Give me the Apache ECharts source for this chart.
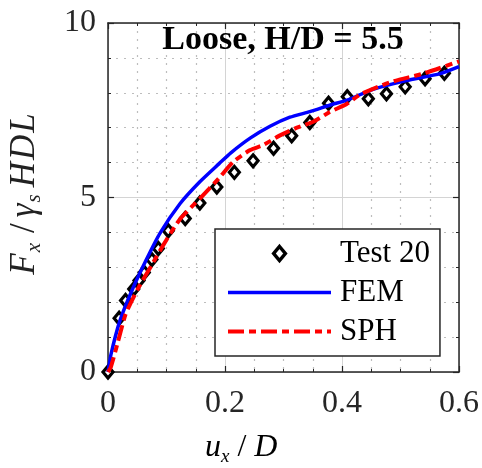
<!DOCTYPE html>
<html>
<head>
<meta charset="utf-8">
<script src="https://cdn.jsdelivr.net/npm/echarts@6/dist/echarts.min.js"></script>
<style>
html,body{margin:0;padding:0;background:#fff;}
#chart{width:482px;height:468px;}
</style>
</head>
<body>
<div id="chart"></div>
<script>
// ---- data ----
var testX = [0, 0.019, 0.030, 0.044, 0.053, 0.062, 0.075, 0.086, 0.103, 0.132, 0.157, 0.186, 0.216, 0.248, 0.283, 0.314, 0.345, 0.377, 0.409, 0.445, 0.476, 0.508, 0.542, 0.575];
var testY = [0, 1.54, 2.05, 2.38, 2.62, 2.85, 3.22, 3.54, 4.05, 4.40, 4.84, 5.30, 5.72, 6.05, 6.41, 6.77, 7.15, 7.70, 7.89, 7.83, 7.97, 8.17, 8.40, 8.56];

var femX = [0, 0.005, 0.02, 0.04, 0.065, 0.089, 0.123, 0.157, 0.19, 0.21, 0.243, 0.277, 0.311, 0.345, 0.38, 0.41, 0.453, 0.51, 0.568, 0.6];
var femY = [0, 0.5, 1.45, 2.3, 3.2, 3.98, 4.82, 5.45, 5.97, 6.28, 6.7, 7.04, 7.3, 7.46, 7.65, 7.8, 8.1, 8.35, 8.55, 8.75];

var sphX = [0, 0.005, 0.016, 0.03, 0.05, 0.076, 0.095, 0.123, 0.157, 0.19, 0.214, 0.243, 0.265, 0.294, 0.323, 0.351, 0.379, 0.408, 0.431, 0.482, 0.539, 0.6];
var sphY = [0, 0.15, 0.8, 1.65, 2.35, 3.1, 3.65, 4.38, 4.97, 5.56, 6.02, 6.36, 6.5, 6.78, 7.0, 7.17, 7.45, 7.68, 7.95, 8.3, 8.55, 8.9];

var seriesNames = ['Test 20', 'FEM', 'SPH'];
var xTicks = { min: 0, max: 0.6, interval: 0.2 };
var yTicks = { min: 0, max: 10, interval: 5 };
var titleText = 'Loose, H/D = 5.5';

function zip(xs, ys) { return xs.map(function (x, i) { return [x, ys[i]]; }); }

var FONT = 'Liberation Serif';
var AX = '#262626';
var SPH_DASH = [16, 5, 7, 5];
var DIAMOND_PATH = 'path://M5,0L10,6L5,12L0,6Z';

var chart = echarts.init(document.getElementById('chart'), null, { renderer: 'canvas' });

var baseX = {
  type: 'value', min: xTicks.min, max: xTicks.max, interval: xTicks.interval,
  axisLine: { show: true, onZero: false, lineStyle: { color: AX, width: 1.5 } },
  axisTick: { show: true, inside: true, length: 6, lineStyle: { color: AX, width: 1.2 } },
  minorTick: { show: true, splitNumber: 4, length: 3, lineStyle: { color: AX, width: 1 } }
};
var baseY = {
  type: 'value', min: yTicks.min, max: yTicks.max, interval: yTicks.interval,
  axisLine: { show: true, onZero: false, lineStyle: { color: AX, width: 1.5 } },
  axisTick: { show: true, inside: true, length: 6, lineStyle: { color: AX, width: 1.2 } },
  minorTick: { show: true, splitNumber: 5, length: 3, lineStyle: { color: AX, width: 1 } }
};

var option = {
  animation: false,
  backgroundColor: '#ffffff',
  grid: { left: 108, right: 23, top: 23, bottom: 96, containLabel: false },
  xAxis: [
    Object.assign({}, baseX, {
      position: 'bottom',
      axisLabel: { show: true, margin: 16, fontFamily: FONT, fontSize: 32, color: AX,
        formatter: function (v) { return String(+v.toFixed(1)); } },
      splitLine: { show: true, lineStyle: { color: '#d4d4d4', width: 1 } },
      minorSplitLine: { show: true, lineStyle: { color: '#bdbdbd', width: 1.2, type: [2, 6] } }
    }),
    Object.assign({}, baseX, {
      position: 'top',
      axisLabel: { show: false },
      splitLine: { show: false },
      minorSplitLine: { show: false }
    })
  ],
  yAxis: [
    Object.assign({}, baseY, {
      position: 'left',
      axisLabel: { show: true, margin: 12, fontFamily: FONT, fontSize: 32, color: AX },
      splitLine: { show: true, lineStyle: { color: '#d4d4d4', width: 1 } },
      minorSplitLine: { show: true, lineStyle: { color: '#bdbdbd', width: 1.2, type: [2, 6] } }
    }),
    Object.assign({}, baseY, {
      position: 'right',
      axisLabel: { show: false },
      splitLine: { show: false },
      minorSplitLine: { show: false }
    })
  ],
  legend: {
    orient: 'vertical',
    left: 215, top: 229,
    padding: [9, 10, 9, 11],
    itemGap: 8,
    itemWidth: 103,
    itemHeight: 14,
    symbolKeepAspect: true,
    backgroundColor: '#ffffff',
    borderColor: AX,
    borderWidth: 1.5,
    borderRadius: 0,
    textStyle: { fontFamily: FONT, fontSize: 31, color: '#000', padding: [0, 0, 0, 4] },
    data: [
      { name: seriesNames[0], icon: DIAMOND_PATH,
        itemStyle: { color: '#ffffff', borderColor: '#000000', borderWidth: 3.5 } },
      { name: seriesNames[1],
        itemStyle: { opacity: 0 },
        lineStyle: { color: '#0000ff', width: 3.5, type: 'solid' } },
      { name: seriesNames[2],
        itemStyle: { opacity: 0 },
        lineStyle: { color: '#ff0000', width: 4, type: SPH_DASH } }
    ]
  },
  series: [
    {
      name: seriesNames[0], type: 'scatter', data: zip(testX, testY),
      symbol: 'diamond', symbolSize: [10, 12], symbolKeepAspect: true, clip: false,
      itemStyle: { color: '#ffffff', borderColor: '#000000', borderWidth: 3.2, opacity: 1 },
      z: 3
    },
    {
      name: seriesNames[1], type: 'line', data: zip(femX, femY),
      showSymbol: false, symbol: 'none', smooth: 0.2,
      lineStyle: { color: '#0000ff', width: 3.5 },
      itemStyle: { color: '#0000ff' },
      z: 4
    },
    {
      name: seriesNames[2], type: 'line', data: zip(sphX, sphY),
      showSymbol: false, symbol: 'none', smooth: 0.2,
      lineStyle: { color: '#ff0000', width: 4, type: SPH_DASH },
      itemStyle: { color: '#ff0000' },
      z: 5
    }
  ],
  graphic: [
    {
      type: 'text', x: 283, y: 23, z: 10,
      style: { text: titleText, fontFamily: FONT, fontWeight: 'bold', fontSize: 34,
        fill: '#000', align: 'center', verticalAlign: 'top' }
    },
    {
      type: 'text', x: 205, y: 432, z: 10,
      style: {
        text: '{i|u}{s|x}{n| / }{i|D}',
        align: 'left', verticalAlign: 'top',
        rich: {
          i: { fontFamily: FONT, fontStyle: 'italic', fontSize: 32, lineHeight: 34, verticalAlign: 'top', fill: '#000' },
          n: { fontFamily: FONT, fontSize: 32, lineHeight: 34, verticalAlign: 'top', fill: '#000' },
          s: { fontFamily: FONT, fontStyle: 'italic', fontSize: 19, lineHeight: 16, verticalAlign: 'bottom', fill: '#000' }
        }
      }
    },
    {
      type: 'text', x: 26, y: 194, rotation: Math.PI / 2, z: 10,
      style: {
        text: '{i|F}{s|x}{n|/}{i|γ}{s|s}{i|H}{i|D}{i|L}',
        align: 'center', verticalAlign: 'middle',
        rich: {
          i: { fontFamily: FONT, fontStyle: 'italic', fontSize: 35, lineHeight: 38, verticalAlign: 'top', fill: '#222', padding: [0, 1, 0, 1] },
          n: { fontFamily: FONT, fontSize: 35, lineHeight: 38, verticalAlign: 'top', fill: '#222', padding: [0, 5, 0, 4] },
          s: { fontFamily: FONT, fontStyle: 'italic', fontSize: 21, lineHeight: 17, verticalAlign: 'bottom', fill: '#222', padding: [0, 6, 0, 0] }
        }
      }
    }
  ]
};

chart.setOption(option);
</script>
</body>
</html>
